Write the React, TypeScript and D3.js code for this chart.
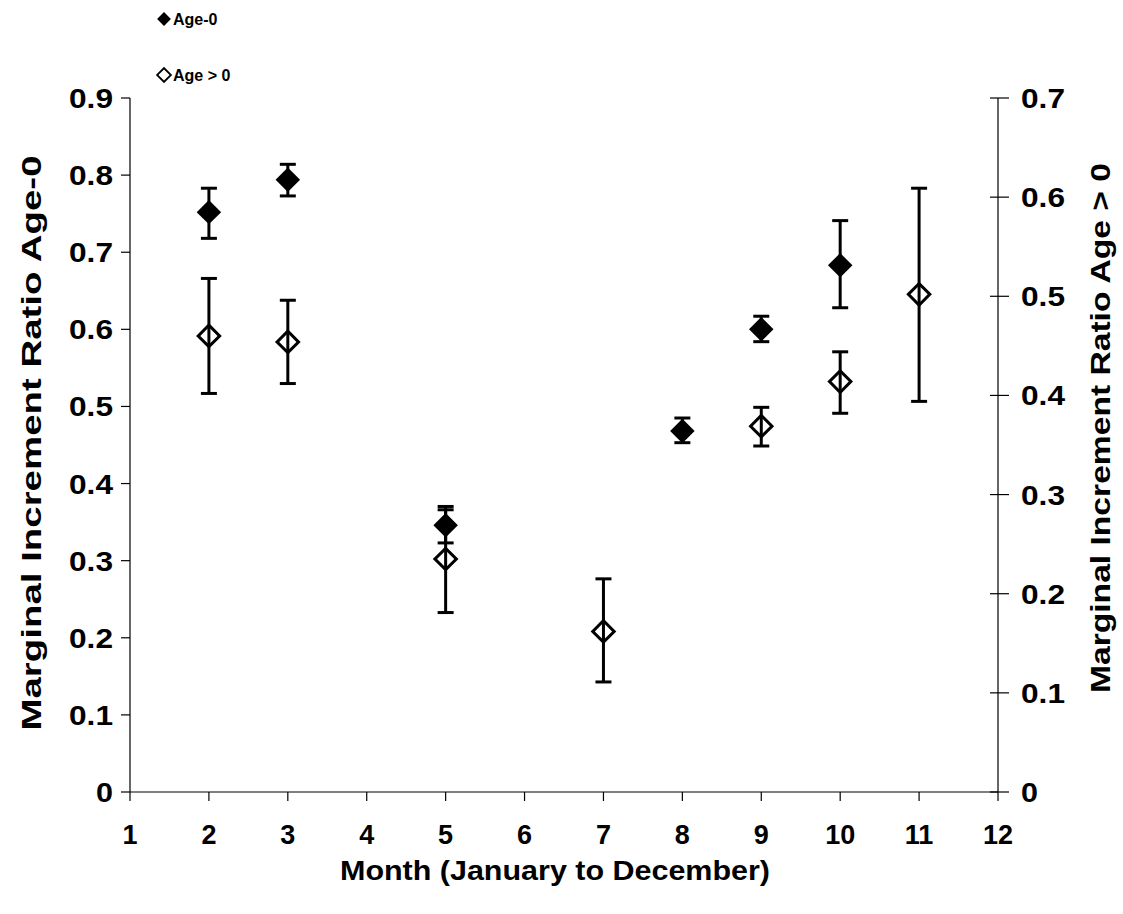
import React from 'react'
import * as d3 from 'd3'

// Age-0 series (left axis)
const age0Months = [2, 3, 5, 8, 9, 10]
const age0Mean = [0.752, 0.794, 0.346, 0.468, 0.6, 0.683]
const age0Upper = [0.783, 0.814, 0.366, 0.485, 0.617, 0.741]
const age0Lower = [0.718, 0.773, 0.323, 0.453, 0.584, 0.628]

// Age > 0 series (right axis)
const olderMonths = [2, 3, 5, 7, 9, 10, 11]
const olderMean = [0.46, 0.454, 0.235, 0.162, 0.369, 0.414, 0.502]
const olderUpper = [0.518, 0.496, 0.288, 0.215, 0.388, 0.444, 0.609]
const olderLower = [0.402, 0.412, 0.181, 0.111, 0.349, 0.382, 0.394]

const monthTicks = [1, 2, 3, 4, 5, 6, 7, 8, 9, 10, 11, 12]
const leftTicks = [0, 0.1, 0.2, 0.3, 0.4, 0.5, 0.6, 0.7, 0.8, 0.9]
const rightTicks = [0, 0.1, 0.2, 0.3, 0.4, 0.5, 0.6, 0.7]

const W = 1123
const H = 914
const x0 = 130
const x1 = 998
const yTop = 98
const yBottom = 792

const font = '"Liberation Sans", Arial, sans-serif'

export default function App() {
  const x = d3.scaleLinear().domain([1, 12]).range([x0, x1])
  const yL = d3.scaleLinear().domain([0, 0.9]).range([yBottom, yTop])
  const yR = d3.scaleLinear().domain([0, 0.7]).range([yBottom, yTop])
  const bigDiamond = d3.symbol().type(d3.symbolSquare).size(300)()
  const openDiamond = d3.symbol().type(d3.symbolSquare).size(230)()
  const smallDiamond = d3.symbol().type(d3.symbolSquare).size(95)()
  const fmt = (v: number) => (v === 0 ? '0' : d3.format('.1f')(v))

  const errorBar = (cx: number, top: number, bottom: number, key: string) => (
    <g key={key} stroke="#000" strokeWidth={3}>
      <line x1={cx} x2={cx} y1={top} y2={bottom} />
      <line x1={cx - 8} x2={cx + 8} y1={top} y2={top} />
      <line x1={cx - 8} x2={cx + 8} y1={bottom} y2={bottom} />
    </g>
  )

  return (
    <svg
      width={W}
      height={H}
      style={{ position: 'absolute', left: 0, top: 0, background: '#fff' }}
      fontFamily={font}
      fontWeight="bold"
    >
      {/* legend */}
      <path d={smallDiamond} transform="translate(164,19) rotate(45)" fill="#000" />
      <text x={173} y={25} fontSize={16}>Age-0</text>
      <path d={smallDiamond} transform="translate(164,75) rotate(45)" fill="none" stroke="#000" strokeWidth={1.8} />
      <text x={173} y={81} fontSize={16}>Age &gt; 0</text>

      {/* axes */}
      <g stroke="#000" strokeWidth={1.2}>
        <line x1={x0} x2={x0} y1={yTop} y2={yBottom} />
        <line x1={x1} x2={x1} y1={yTop} y2={yBottom} />
        <line x1={x0} x2={x1} y1={yBottom} y2={yBottom} />
        {leftTicks.map(t => (
          <line key={'lt' + t} x1={x0 - 9} x2={x0} y1={yL(t)} y2={yL(t)} />
        ))}
        {rightTicks.map(t => (
          <line key={'rt' + t} x1={x1 - 8} x2={x1 + 11} y1={yR(t)} y2={yR(t)} />
        ))}
        {monthTicks.map(t => (
          <line key={'xt' + t} x1={x(t)} x2={x(t)} y1={yBottom} y2={yBottom + 9} />
        ))}
      </g>
      <g fontSize={27} textAnchor="end">
        {leftTicks.map(t => (
          <text key={'ll' + t} x={113} y={yL(t) + 10} textLength={t === 0 ? 17 : 44} lengthAdjust="spacingAndGlyphs">
            {fmt(t)}
          </text>
        ))}
      </g>
      <g fontSize={27} textAnchor="start">
        {rightTicks.map(t => (
          <text key={'rl' + t} x={1021} y={yR(t) + 10} textLength={t === 0 ? 17 : 44} lengthAdjust="spacingAndGlyphs">
            {fmt(t)}
          </text>
        ))}
      </g>
      <g fontSize={27} textAnchor="middle">
        {monthTicks.map(t => (
          <text key={'xl' + t} x={x(t)} y={844}>{t}</text>
        ))}
      </g>
      <text x={555} y={880} fontSize={27} textAnchor="middle" textLength={430} lengthAdjust="spacingAndGlyphs">
        Month (January to December)
      </text>
      <text
        transform="translate(41,443) rotate(-90)"
        fontSize={28}
        textAnchor="middle"
        textLength={575}
        lengthAdjust="spacingAndGlyphs"
      >
        Marginal Increment Ratio Age-0
      </text>
      <text
        transform="translate(1110,428) rotate(-90)"
        fontSize={28}
        textAnchor="middle"
        textLength={530}
        lengthAdjust="spacingAndGlyphs"
      >
        Marginal Increment Ratio Age &gt; 0
      </text>

      {/* error bars */}
      {olderMonths.map((m, i) => errorBar(x(m), yR(olderUpper[i]), yR(olderLower[i]), 'oe' + i))}
      {age0Months.map((m, i) => errorBar(x(m), yL(age0Upper[i]), yL(age0Lower[i]), 'ae' + i))}

      {/* markers */}
      {olderMonths.map((m, i) => (
        <path
          key={'om' + i}
          d={openDiamond}
          transform={`translate(${x(m)},${yR(olderMean[i])}) rotate(45)`}
          fill="none"
          stroke="#000"
          strokeWidth={3}
        />
      ))}
      {age0Months.map((m, i) => (
        <path
          key={'am' + i}
          d={bigDiamond}
          transform={`translate(${x(m)},${yL(age0Mean[i])}) rotate(45)`}
          fill="#000"
        />
      ))}
    </svg>
  )
}
